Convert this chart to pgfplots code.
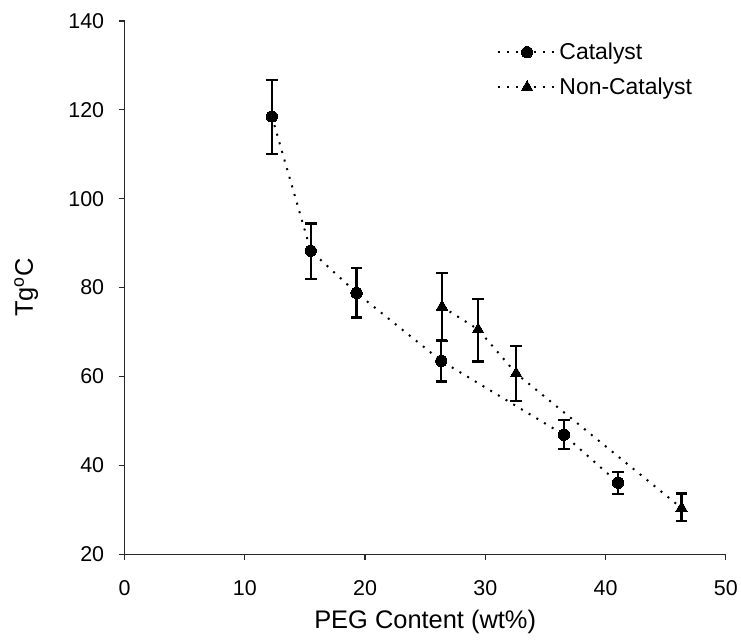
\documentclass[border=0pt]{standalone}
\usepackage{fontspec}
\setmainfont{Liberation Sans}
\usepackage{pgfplots}
\usepackage{pgfplotstable}
\pgfplotsset{compat=1.18}

% PEG content (wt%), Tg, error plus, error minus
\pgfplotstableread{
x      y      ep   em
12.25  118.5  8.2  8.4
15.48  88.3   6.1  6.3
19.29  78.8   5.6  5.5
26.34  63.5   4.6  4.6
36.53  46.9   3.3  3.2
41.04  36.1   2.4  2.6
}\catalyst

\pgfplotstableread{
x      y      ep   em
26.40  75.7   7.6  7.7
29.40  70.6   6.9  7.2
32.56  60.7   6.2  6.2
46.32  30.4   3.3  2.9
}\noncatalyst

\begin{document}
\begin{tikzpicture}
\begin{axis}[
  scale only axis,
  width=603pt, height=535pt,
  xmin=0, xmax=50, ymin=20, ymax=140,
  xtick={0,10,...,50}, ytick={20,40,...,140},
  axis lines=left,
  axis line style={-, line width=1.3pt, black!85},
  tick align=outside,
  major tick length=6pt,
  tick style={line width=1.3pt, black!85},
  /pgf/number format/assume math mode=true,
  ticklabel style={font=\fontsize{21.5}{25}\selectfont},
  xticklabel style={yshift=-17pt},
  yticklabel style={xshift=-11pt},
  xlabel={PEG Content (wt\%)},
  ylabel={Tg\textsuperscript{o}C},
  every axis x label/.style={at={(axis description cs:0.5,0)}, anchor=base, yshift=-74pt,
    font=\fontsize{25.5}{30}\selectfont},
  every axis y label/.style={at={(axis description cs:0,0.5)}, xshift=-92pt, rotate=90, anchor=base,
    font=\fontsize{25.5}{30}\selectfont},
  clip=false,
  legend image code/.code={\draw[mark repeat=2,mark phase=2,#1] plot coordinates {(0pt,0pt) (29.5pt,0pt) (59pt,0pt)};},
  legend cell align=left,
  legend style={draw=none, fill=none, at={(axis description cs:0.6186,0.9084)}, anchor=west,
    font=\fontsize{23}{27}\selectfont, inner sep=0pt, row sep=13pt,
    nodes={inner sep=2pt}},
  error bars/error bar style={solid, line width=2.3pt, black},
  error bars/error mark options={solid, rotate=90, mark size=5.8pt, line width=2.3pt, black},
]
\addplot[black, line width=2pt, dash pattern=on 2pt off 7pt,
  mark=*, mark size=5.7pt, mark options={solid, fill=black, draw=black, line width=0pt},
  error bars/.cd, y dir=both, y explicit]
  table[x=x, y=y, y error plus=ep, y error minus=em] {\catalyst};
\addlegendentry{Catalyst}
\addplot[black, line width=2pt, dash pattern=on 2pt off 7pt,
  mark=triangle*, mark size=6.7pt, mark options={solid, fill=black, draw=black, line width=0pt},
  error bars/.cd, y dir=both, y explicit]
  table[x=x, y=y, y error plus=ep, y error minus=em] {\noncatalyst};
\addlegendentry{Non-Catalyst}
\end{axis}
\useasboundingbox (current axis.south west) ++(-125pt,-88pt) rectangle ++(741pt,644pt);
\end{tikzpicture}
\end{document}
